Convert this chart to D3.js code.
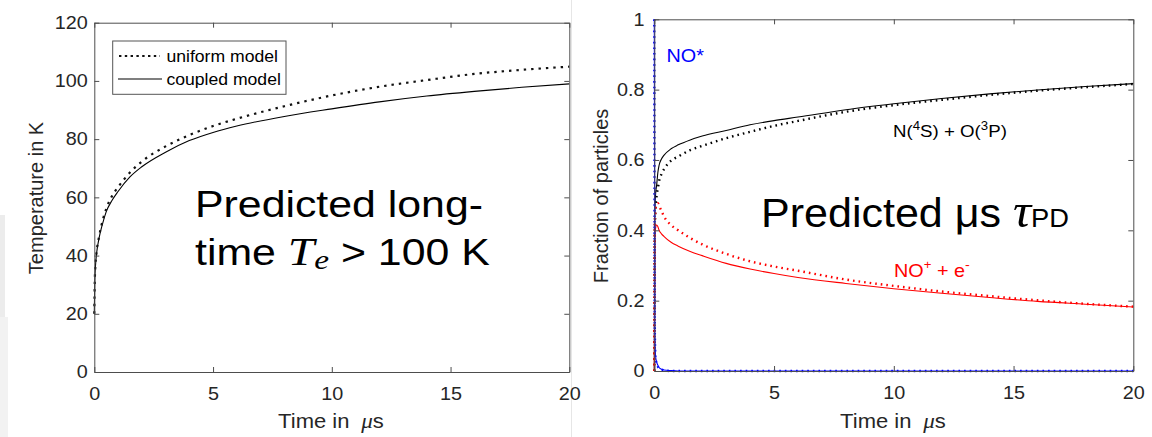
<!DOCTYPE html>
<html>
<head>
<meta charset="utf-8">
<script src="https://cdn.jsdelivr.net/npm/d3@7"></script>
<style>
body{margin:0;background:#fff;}
svg{display:block;}
text{font-family:"Liberation Sans",Arial,Helvetica,sans-serif;}
</style>
</head>
<body>
<script>
// left panel: electron temperature (K) vs time (us)
var tempTimes=[0,0.02,0.05,0.1,0.2,0.35,0.5,0.75,1,1.5,2,3,4,5,6,8,10,12,14,16,18,20];
var uniformTemp=[20,31,37,41.5,46.5,52,56,60.5,63.5,68.5,72.3,77.5,81.4,84.5,87,91.3,95,98,100.3,102.4,103.8,104.9];
var coupledTemp=[20,31,36.5,41,46,51,55,59,62,67,70.5,75.5,79.5,82.3,84.5,87.8,90.4,92.8,94.8,96.4,97.8,99];
var tempTicksX=[0,5,10,15,20];
var tempTicksY=[0,20,40,60,80,100,120];

// right panel: fraction of particles vs time (us)
var fracTimes=[0,0.02,0.05,0.1,0.15,0.2,0.3,0.4,0.7,1,1.5,2,3,4,5,6,8,10,12,14,16,18,20];
var nOCoupled=[0,0.45,0.5,0.53,0.565,0.585,0.603,0.613,0.632,0.643,0.657,0.668,0.684,0.700,0.712,0.722,0.743,0.760,0.775,0.788,0.799,0.809,0.817];
var nOUniform=[0,0.4,0.46,0.5,0.52,0.54,0.56,0.573,0.598,0.610,0.628,0.640,0.662,0.680,0.697,0.711,0.737,0.756,0.771,0.785,0.797,0.807,0.816];
var ionCoupled=[0,0.38,0.405,0.415,0.41,0.4,0.39,0.383,0.366,0.355,0.34,0.328,0.306,0.29,0.277,0.266,0.249,0.234,0.221,0.209,0.198,0.19,0.182];
var ionUniform=[0,0.42,0.46,0.472,0.477,0.47,0.455,0.44,0.415,0.400,0.378,0.36,0.333,0.312,0.297,0.285,0.26,0.242,0.226,0.213,0.201,0.191,0.183];
var noStarCoupled=[1,0.12,0.045,0.025,0.016,0.01,0.005,0.003,0.001,0,0,0,0,0,0,0,0,0,0,0,0,0,0];
var noStarUniform=[1,0.12,0.04,0.02,0.012,0.008,0.004,0.002,0,0,0,0,0,0,0,0,0,0,0,0,0,0,0];
var fracTicksX=[0,5,10,15,20];
var fracTicksY=[0,0.2,0.4,0.6,0.8,1];

var axisColor="#4d4d4d";
var labelColor="#262626";
var stretch="scale(1.1,1)";

function setupspace() {
    window.svg=d3.select("body").append("svg")
        .attr("width",1152).attr("height",437);
    // faint edges of the pasted slide images
    svg.append("rect").attr("x",0).attr("y",215).attr("width",5).attr("height",102).attr("fill","#ececec");
    svg.append("rect").attr("x",0).attr("y",317).attr("width",8).attr("height",120).attr("fill","#f2f2f2");
    svg.append("line").attr("x1",571.5).attr("x2",571.5).attr("y1",0).attr("y2",437)
        .attr("stroke","#e6e6e6").attr("stroke-width",1);
}

function drawBox(x,y,ticksX,ticksY,fmtY,padY) {
    var y0=y.range()[0], y1=y.range()[1], x0=x.range()[0], x1=x.range()[1];
    var b=svg.append("g").attr("transform","translate(0,"+y0+")")
        .call(d3.axisBottom(x).tickValues(ticksX).tickSize(-5).tickSizeOuter(0).tickPadding(15));
    var t=svg.append("g").attr("transform","translate(0,"+y1+")")
        .call(d3.axisTop(x).tickValues(ticksX).tickSize(-5).tickSizeOuter(0).tickFormat(""));
    var l=svg.append("g").attr("transform","translate("+x0+",0)")
        .call(d3.axisLeft(y).tickValues(ticksY).tickSize(-5).tickSizeOuter(0).tickPadding(padY).tickFormat(fmtY));
    var r=svg.append("g").attr("transform","translate("+x1+",0)")
        .call(d3.axisRight(y).tickValues(ticksY).tickSize(-5).tickSizeOuter(0).tickFormat(""));
    [b,t,l,r].forEach(function (a) {
        a.selectAll("path.domain").attr("stroke",axisColor);
        a.selectAll("line").attr("stroke",axisColor);
        a.selectAll("text").attr("fill",labelColor)
            .attr("font-family","Liberation Sans, Arial, sans-serif")
            .attr("font-size",18).attr("transform",stretch);
    });
}

function axisTitles(cx,cy,bx,ylabel) {
    svg.append("text").attr("transform","translate("+cx+",428) "+stretch)
        .attr("text-anchor","middle").attr("font-size",20).attr("fill",labelColor)
        .text("Time in ")
        .append("tspan").attr("font-family","Liberation Serif, Times New Roman, serif")
        .attr("font-style","italic").attr("font-size",21).text("\u00a0\u03bc")
        .select(function () { return this.parentNode; })
        .append("tspan").text("s");
    svg.append("text").attr("transform","translate("+bx+","+cy+") rotate(-90)")
        .attr("text-anchor","middle").attr("font-size",20).attr("fill",labelColor)
        .text(ylabel);
}

function drawTempPanel() {
    var x=d3.scaleLinear().domain([0,20]).range([94.3,569.3]);
    var y=d3.scaleLinear().domain([0,120]).range([372,22.7]);
    var line=d3.line().curve(d3.curveMonotoneX)
        .x(function (d) { return x(d[0]); })
        .y(function (d) { return y(d[1]); });
    var uni=d3.zip(tempTimes,uniformTemp);
    var cpl=d3.zip(tempTimes,coupledTemp);
    svg.append("path").attr("d",line(cpl)).attr("fill","none")
        .attr("stroke","#000").attr("stroke-width",1.1);
    svg.append("path").attr("d",line(uni)).attr("fill","none")
        .attr("stroke","#111").attr("stroke-width",2.2).attr("stroke-dasharray","2.4,5");
    drawBox(x,y,tempTicksX,tempTicksY,d3.format("d"),6);
    axisTitles(331,198,43,"Temperature in K");

    // legend
    var lg=svg.append("g");
    lg.append("rect").attr("x",112.7).attr("y",41).attr("width",173.3).attr("height",53.3)
        .attr("fill","#fff").attr("stroke","#555").attr("stroke-width",1);
    lg.append("line").attr("x1",119).attr("x2",160).attr("y1",56).attr("y2",56)
        .attr("stroke","#111").attr("stroke-width",2.2).attr("stroke-dasharray","2.4,3.4");
    lg.append("line").attr("x1",118).attr("x2",162).attr("y1",79).attr("y2",79)
        .attr("stroke","#000").attr("stroke-width",1.1);
    lg.append("text").attr("transform","translate(166.5,62) "+stretch)
        .attr("font-size",16).attr("fill","#000").text("uniform model");
    lg.append("text").attr("transform","translate(166.5,85) "+stretch)
        .attr("font-size",16).attr("fill","#000").text("coupled model");

    // overlay text
    svg.append("text").attr("transform","translate(195,217) scale(1.19,1)")
        .attr("font-size",36).attr("fill","#000").text("Predicted long-");
    var t2=svg.append("text").attr("transform","translate(195,265) scale(1.19,1)")
        .attr("font-size",36).attr("fill","#000");
    t2.append("tspan").text("time ");
    t2.append("tspan").attr("font-family","Liberation Serif, Times New Roman, serif")
        .attr("font-style","italic").attr("font-size",40).text("T");
    t2.append("tspan").attr("font-family","Liberation Serif, Times New Roman, serif")
        .attr("font-style","italic").attr("font-size",28).attr("dy",4).text("e");
    t2.append("tspan").attr("dy",-4).text(" > 100 K");
}

function drawFracPanel() {
    var x=d3.scaleLinear().domain([0,20]).range([654.3,1133.3]);
    var y=d3.scaleLinear().domain([0,1]).range([371,19.3]);
    var line=d3.line().curve(d3.curveMonotoneX)
        .x(function (d) { return x(d[0]); })
        .y(function (d) { return y(d[1]); });
    var series=[
        {v:nOCoupled,c:"#000",dot:false},
        {v:nOUniform,c:"#000",dot:true},
        {v:ionCoupled,c:"#ff0000",dot:false},
        {v:ionUniform,c:"#ff0000",dot:true},
        {v:noStarCoupled,c:"#0000ff",dot:false},
        {v:noStarUniform,c:"#0000ff",dot:true}
    ];
    series.forEach(function (s) {
        var p=svg.append("path").attr("d",line(d3.zip(fracTimes,s.v)))
            .attr("fill","none").attr("stroke",s.c);
        if(s.dot){
            p.attr("stroke-width",2.4).attr("stroke-dasharray","1.6,4");
        }else{
            p.attr("stroke-width",1.1);
        }
    });
    drawBox(x,y,fracTicksX,fracTicksY,function (d) { return d===0||d===1 ? d3.format("d")(d) : d3.format(".1f")(d); },9);
    axisTitles(893,196,608,"Fraction of particles");

    svg.append("text").attr("transform","translate(666.5,61.5) "+stretch)
        .attr("font-size",18).attr("fill","#0000ff").text("NO*");

    var n=svg.append("text").attr("transform","translate(893,137) "+stretch)
        .attr("font-size",17).attr("fill","#000");
    n.append("tspan").text("N(");
    n.append("tspan").attr("font-size",12).attr("dy",-7).text("4");
    n.append("tspan").attr("dy",7).text("S) + O(");
    n.append("tspan").attr("font-size",12).attr("dy",-7).text("3");
    n.append("tspan").attr("dy",7).text("P)");

    var ion=svg.append("text").attr("transform","translate(894,277) "+stretch)
        .attr("font-size",18).attr("fill","#ff0000");
    ion.append("tspan").text("NO");
    ion.append("tspan").attr("font-size",12).attr("dy",-8).text("+");
    ion.append("tspan").attr("dy",8).text(" + e");
    ion.append("tspan").attr("font-size",13).attr("dy",-8).text("-");

    var big=svg.append("text").attr("transform","translate(761,227) scale(1.05,1)")
        .attr("font-size",41).attr("fill","#000");
    big.append("tspan").text("Predicted \u03bcs ");
    big.append("tspan").attr("font-family","Liberation Serif, Times New Roman, serif")
        .attr("font-style","italic").attr("font-size",48).text("\u03c4");
    big.append("tspan").attr("font-size",26).text("PD");
}

setupspace();
drawTempPanel();
drawFracPanel();
</script>
</body>
</html>
